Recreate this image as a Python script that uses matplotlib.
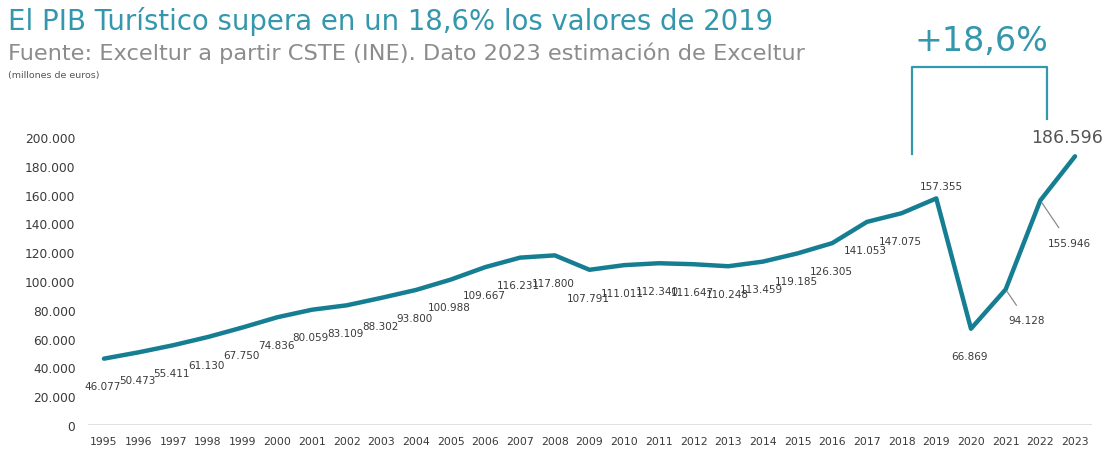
import matplotlib.pyplot as plt
from matplotlib.ticker import FuncFormatter

# Datos: PIB turístico (millones de euros)
anios = list(range(1995, 2024))
pib = [46077, 50473, 55411, 61130, 67750, 74836, 80059, 83109, 88302, 93800,
       100988, 109667, 116231, 117800, 107791, 111011, 112340, 111647, 110248,
       113459, 119185, 126305, 141053, 147075, 157355, 66869, 94128, 155946,
       186596]
etiquetas = [f"{v:,}".replace(",", ".") for v in pib]

titulo = "El PIB Turístico supera en un 18,6% los valores de 2019"
subtitulo = "Fuente: Exceltur a partir CSTE (INE). Dato 2023 estimación de Exceltur"
unidades = "(millones de euros)"
variacion = "+18,6%"

azul = "#167e92"
azul_claro = "#3597ad"
gris = "#8c8c8c"
texto = "#3a3a3a"

plt.rcParams['font.family'] = ['DejaVu Sans']

fig = plt.figure(figsize=(11.11, 4.52), dpi=100)
ax = fig.add_axes([88 / 1111, 26 / 452, 1004 / 1111, 288 / 452])

ax.plot(anios, pib, color=azul, lw=3.2, solid_joinstyle='round',
        solid_capstyle='round', zorder=3)
ax.axhline(0, color="#dcdcdc", lw=1.2, zorder=1)

ax.set_xlim(1994.54, 2023.49)
ax.set_ylim(0, 200000)
ax.set_xticks(anios)
ax.set_xticklabels([str(a) for a in anios])
ax.set_yticks(range(0, 200001, 20000))
ax.yaxis.set_major_formatter(FuncFormatter(lambda v, p: f"{int(v):,}".replace(",", ".")))
ax.tick_params(length=0, labelcolor=texto)
ax.tick_params(axis='x', pad=8, labelsize=7.8)
ax.tick_params(axis='y', pad=9, labelsize=8.8)
for s in ax.spines.values():
    s.set_visible(False)

# Etiquetas de valores
for a, v, t in zip(anios, pib, etiquetas):
    if a == 2019:
        ax.annotate(t, (a, v), xytext=(4, 5), textcoords='offset points',
                    ha='center', va='bottom', fontsize=7.5, color=texto)
    elif a == 2021:
        ax.annotate(t, (a, v), xytext=(15, -22), textcoords='offset points',
                    ha='center', va='center', fontsize=7.5, color=texto,
                    arrowprops=dict(arrowstyle='-', color=gris, lw=0.9,
                                    shrinkA=6, shrinkB=2))
    elif a == 2022:
        ax.annotate(t, (a, v), xytext=(21, -31), textcoords='offset points',
                    ha='center', va='center', fontsize=7.5, color=texto,
                    arrowprops=dict(arrowstyle='-', color=gris, lw=0.9,
                                    shrinkA=7, shrinkB=2))
    elif a == 2023:
        ax.annotate(t, (a, v), xytext=(-6, 14), textcoords='offset points',
                    ha='center', va='center', fontsize=12.5, color="#555555")
    else:
        ax.annotate(t, (a, v), xytext=(-1, -20), textcoords='offset points',
                    ha='center', va='center', fontsize=7.5, color=texto)

# Corchete de la variación 2019-2023
ax.plot([2018.3, 2018.3, 2022.2, 2022.2], [188000, 248600, 248600, 212500],
        color=azul_claro, lw=1.6, clip_on=False)
ax.text(2020.3, 267000, variacion, ha='center', va='center', fontsize=24,
        color=azul_claro, fontweight='medium')

# Títulos
fig.text(0.007, 0.952, titulo, fontsize=19.8, color=azul_claro, va='center')
fig.text(0.007, 0.882, subtitulo, fontsize=16.2, color=gris, va='center')
fig.text(0.007, 0.832, unidades, fontsize=6.8, color="#555555", va='center')

fig.savefig("out.png", dpi=100)
